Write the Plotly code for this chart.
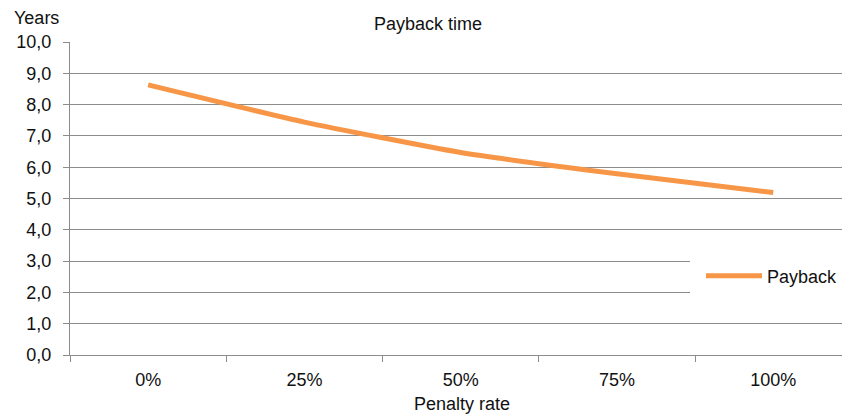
import plotly.graph_objects as go

# Payback period (years) by penalty rate
categories = ["0%", "25%", "50%", "75%", "100%"]
payback_years = [8.63, 7.44, 6.47, 5.79, 5.19]
y_ticks = [0, 1, 2, 3, 4, 5, 6, 7, 8, 9, 10]
y_tick_labels = ["0,0", "1,0", "2,0", "3,0", "4,0", "5,0", "6,0", "7,0", "8,0", "9,0", "10,0"]

FONT = "Liberation Sans, Arial, sans-serif"
GRID = "#8c8c8c"
ORANGE = "#F79646"
TEXT = "#111111"
FS = 18

fig = go.Figure()
fig.add_trace(go.Scatter(
    x=categories, y=payback_years, mode="lines", name="Payback",
    line=dict(color=ORANGE, width=5, shape="spline", smoothing=0.5),
))

fig.update_layout(
    width=842, height=414,
    margin=dict(l=70, r=0, t=42, b=59, autoexpand=False),
    paper_bgcolor="white", plot_bgcolor="white",
    font=dict(family=FONT, size=FS, color=TEXT),
    title=dict(text="Payback time", x=428 / 842, xanchor="center",
               y=1 - 24 / 414, yanchor="middle", yref="container",
               font=dict(size=FS, color=TEXT)),
    showlegend=True,
    legend=dict(x=(690 - 70) / 772, xanchor="left", y=(355 - 276) / 313,
                yanchor="middle", bgcolor="white", bordercolor="white",
                borderwidth=11, itemwidth=56,
                font=dict(size=FS, color=TEXT)),
    xaxis=dict(
        type="category", range=[-0.5, 4.44], tickson="boundaries",
        ticks="outside", ticklen=6, tickcolor=GRID, tickwidth=1.4,
        showline=True, linecolor=GRID, linewidth=1.4,
        showgrid=False, zeroline=False, ticklabelstandoff=8,
        tickfont=dict(size=FS, color=TEXT),
    ),
    yaxis=dict(
        range=[0, 10], tickvals=y_ticks, ticktext=y_tick_labels,
        ticks="outside", ticklen=6, tickcolor=GRID, tickwidth=1.4,
        showline=True, linecolor=GRID, linewidth=1.4,
        showgrid=True, gridcolor=GRID, gridwidth=1.4, zeroline=False,
        ticklabelstandoff=8,
        tickfont=dict(size=FS, color=TEXT),
    ),
    annotations=[
        # value-axis unit label above the axis
        dict(text="Years", xref="paper", yref="paper",
             x=(12 - 70) / 772, y=1 + (42 - 18) / 313,
             xanchor="left", yanchor="middle", showarrow=False,
             font=dict(size=FS, color=TEXT)),
        # category-axis title
        dict(text="Penalty rate", xref="paper", yref="paper",
             x=(462 - 70) / 772, y=-(404 - 355) / 313,
             xanchor="center", yanchor="middle", showarrow=False,
             font=dict(size=FS, color=TEXT)),
    ],
)

fig.write_html("out.html")
